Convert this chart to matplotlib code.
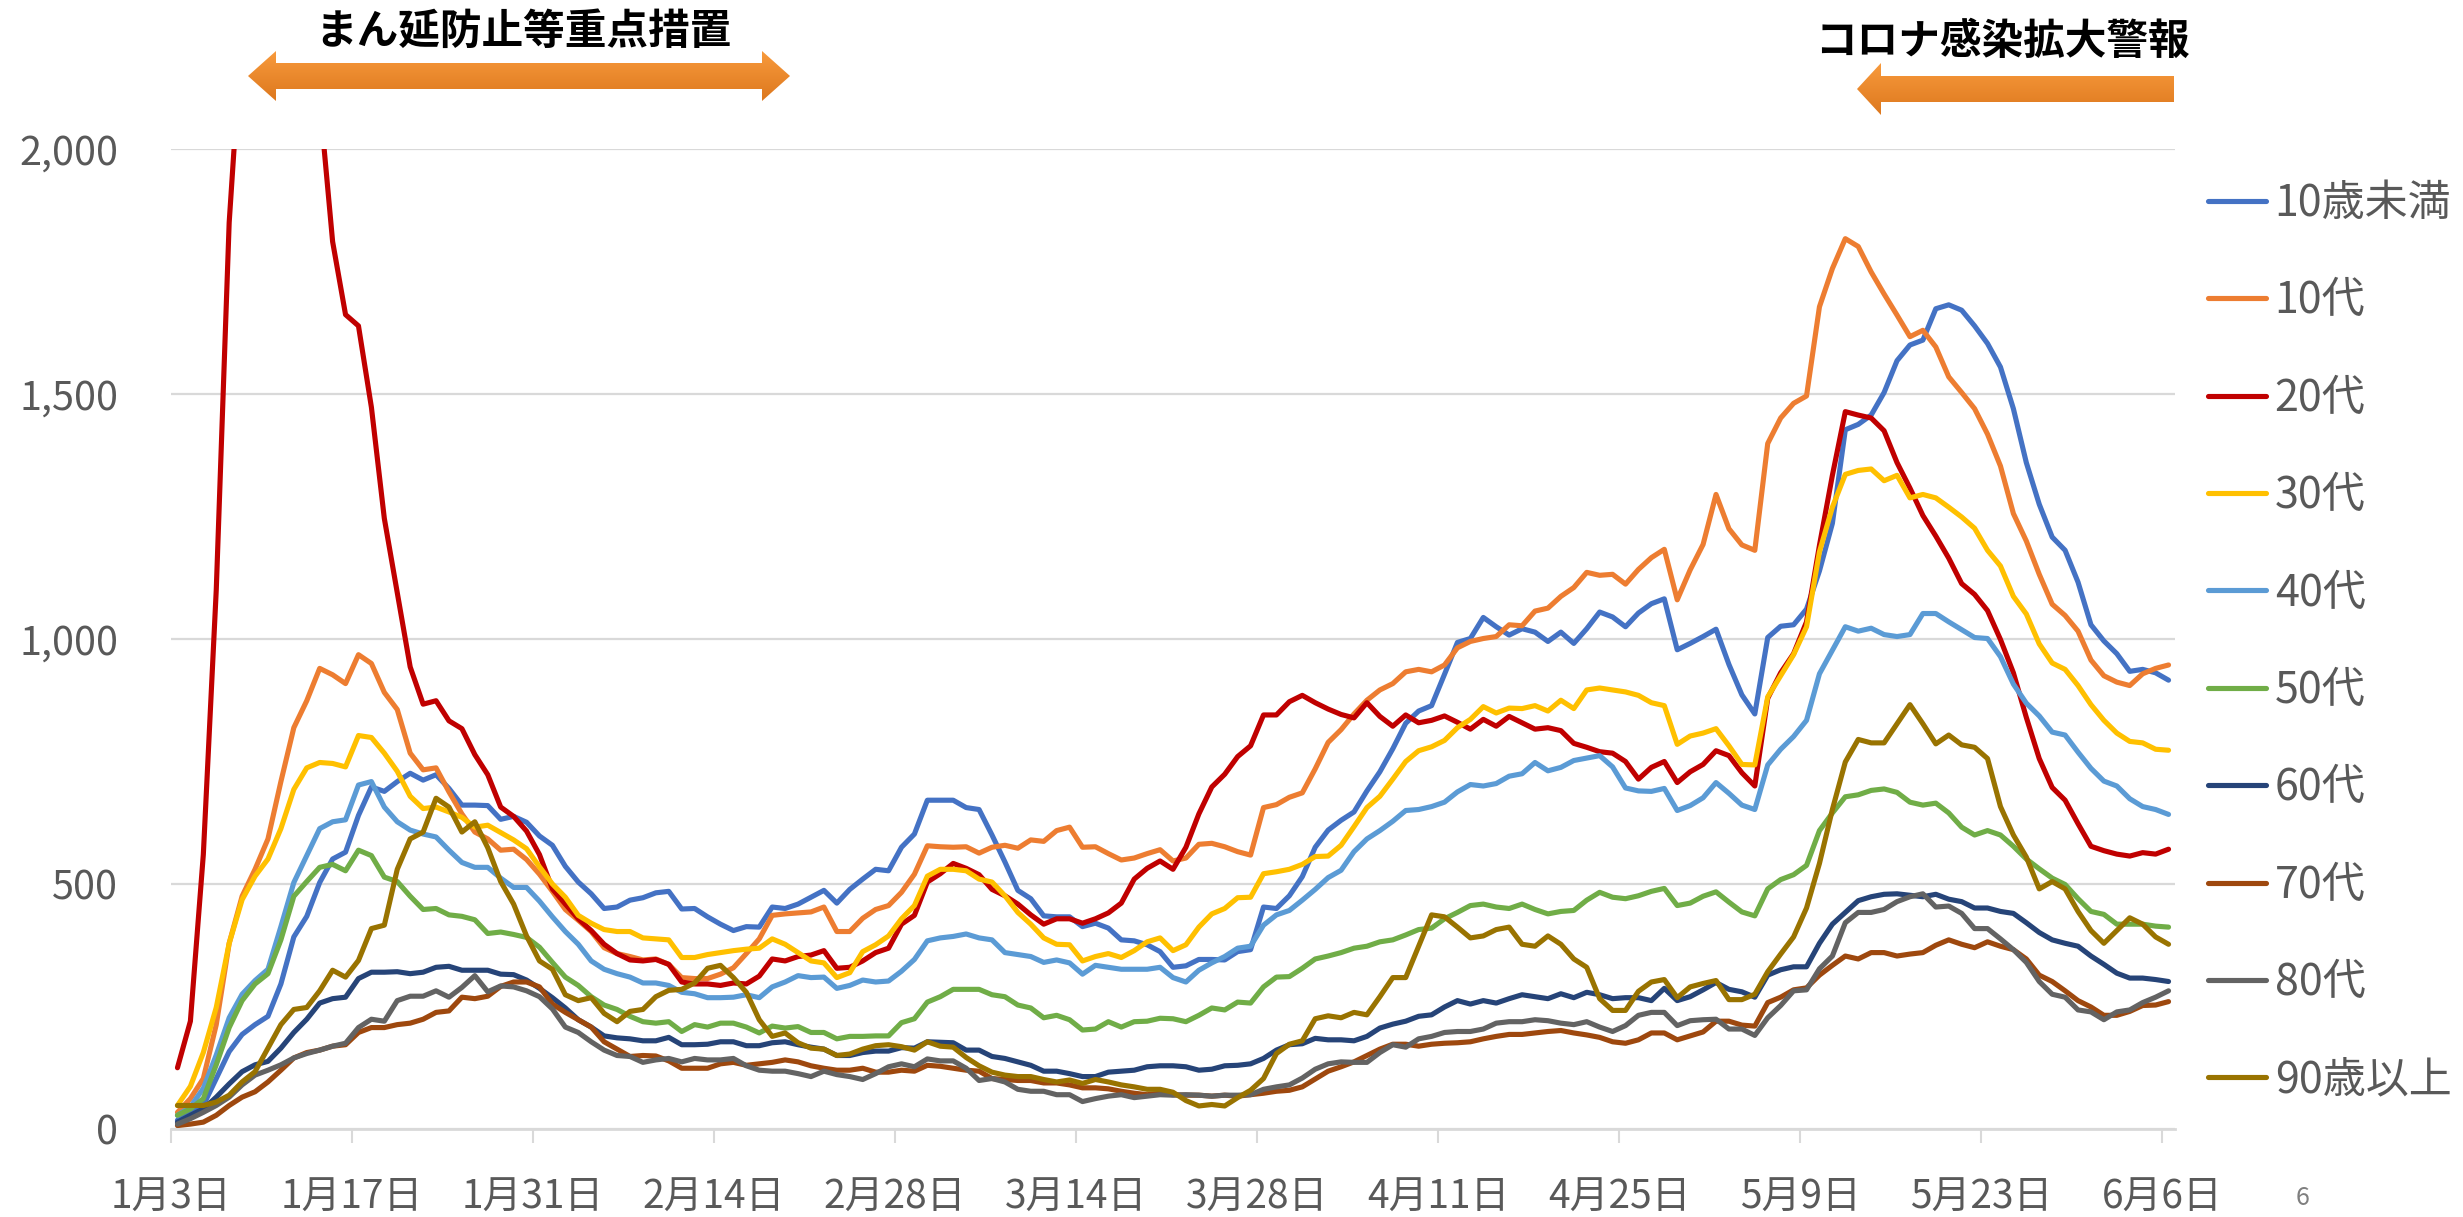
"""
年代別 新規陽性者数（7日間移動平均の推移）
1月3日から6月6日までの日別データを折れ線で描画する
"""

import numpy as np
import pandas as pd
import matplotlib
matplotlib.use('Agg')
import matplotlib.pyplot as plt
from matplotlib.patches import Polygon
from matplotlib.ticker import FuncFormatter

plt.rcParams['font.family'] = ['Noto Sans CJK JP', 'DejaVu Sans']

# 1月3日から6月6日までの日付
dates = pd.date_range('2021-01-03', '2021-06-06')

age_labels = ['10歳未満', '10代', '20代', '30代', '40代', '50代', '60代', '70代', '80代', '90歳以上']
colors = ['#4472C4', '#ED7D31', '#C00000', '#FFC000', '#5B9BD5',
          '#70AD47', '#264478', '#9E480E', '#636363', '#997300']

under10 = [18, 34, 48, 103, 158, 193, 213, 230, 296, 392,
           434, 503, 551, 565, 640, 698, 689, 709, 726, 712,
           723, 695, 661, 661, 660, 632, 638, 626, 598, 579,
           536, 504, 480, 450, 453, 467, 472, 482, 485, 449,
           450, 433, 418, 405, 413, 412, 453, 450, 459, 473,
           487, 461, 489, 510, 530, 527, 575, 602, 671, 671,
           671, 656, 652, 600, 545, 487, 470, 435, 433, 433,
           413, 420, 410, 386, 384, 376, 362, 330, 333, 346,
           346, 345, 362, 366, 453, 450, 476, 515, 575, 610,
           630, 647, 690, 729, 776, 828, 853, 864, 928, 993,
           1001, 1044, 1025, 1008, 1021, 1014, 995, 1014, 991, 1021,
           1055, 1045, 1025, 1053, 1072, 1082, 978, 991, 1005, 1020,
           948, 886, 847, 1003, 1026, 1029, 1061, 1139, 1236, 1427,
           1438, 1457, 1503, 1568, 1600, 1610, 1674, 1682, 1671, 1639,
           1603, 1555, 1470, 1360, 1275, 1208, 1181, 1116, 1029, 996,
           970, 934, 938, 931, 916]

teens = [34, 62, 103, 213, 379, 475, 530, 592, 709, 819,
         874, 940, 927, 909, 968, 950, 891, 856, 767, 733,
         737, 688, 643, 606, 592, 569, 571, 550, 520, 485,
         448, 426, 403, 370, 358, 352, 345, 347, 336, 309,
         307, 307, 316, 329, 358, 388, 436, 439, 441, 443,
         453, 403, 403, 430, 448, 456, 483, 520, 578, 576,
         575, 576, 563, 575, 579, 573, 590, 587, 609, 616,
         575, 576, 562, 549, 553, 562, 570, 547, 553, 581,
         583, 576, 566, 559, 656, 662, 677, 686, 735, 789,
         815, 847, 875, 896, 909, 933, 938, 933, 947, 982,
         995, 1001, 1005, 1029, 1027, 1057, 1063, 1087, 1105, 1136,
         1130, 1132, 1112, 1142, 1166, 1183, 1080, 1141, 1193, 1295,
         1225, 1192, 1181, 1399, 1451, 1481, 1496, 1678, 1756, 1817,
         1801, 1749, 1704, 1661, 1617, 1630, 1596, 1535, 1503, 1470,
         1418, 1353, 1256, 1200, 1132, 1071, 1048, 1016, 957, 925,
         912, 905, 929, 940, 947]

twenties = [125, 220, 560, 1100, 1850, 2250, 2600, 2800, 2850, 2700,
            2450, 2100, 1811, 1662, 1639, 1473, 1246, 1095, 943, 867,
            874, 833, 817, 764, 723, 657, 638, 608, 560, 490,
            459, 429, 405, 377, 358, 345, 343, 346, 336, 300,
            296, 296, 293, 298, 296, 312, 347, 343, 352, 355,
            364, 328, 330, 343, 360, 369, 418, 436, 504, 521,
            542, 532, 519, 489, 476, 459, 437, 418, 429, 429,
            420, 429, 441, 461, 510, 532, 547, 530, 575, 643,
            698, 724, 760, 782, 845, 845, 872, 885, 870, 857,
            846, 839, 870, 842, 822, 845, 829, 834, 843, 830,
            816, 836, 822, 842, 829, 816, 819, 813, 787, 779,
            770, 767, 750, 714, 738, 750, 707, 729, 744, 772,
            762, 727, 700, 879, 931, 970, 1035, 1191, 1334, 1464,
            1457, 1451, 1425, 1360, 1308, 1252, 1210, 1165, 1113, 1091,
            1058, 999, 931, 840, 756, 697, 671, 623, 577, 568,
            561, 557, 564, 561, 571]

thirties = [48, 87, 156, 248, 379, 468, 516, 551, 613, 693,
            737, 748, 746, 739, 803, 799, 767, 730, 679, 654,
            657, 647, 636, 616, 620, 605, 590, 572, 535, 500,
            473, 436, 420, 407, 403, 403, 390, 388, 386, 350,
            350, 356, 360, 364, 367, 369, 388, 377, 360, 343,
            339, 309, 319, 362, 376, 394, 429, 456, 516, 530,
            530, 527, 510, 504, 476, 442, 418, 390, 377, 376,
            343, 352, 358, 350, 364, 382, 390, 364, 376, 412,
            439, 450, 472, 473, 521, 525, 530, 540, 556, 557,
            579, 617, 656, 679, 714, 750, 772, 780, 793, 819,
            836, 862, 849, 859, 858, 864, 853, 875, 858, 896,
            900, 896, 892, 885, 870, 864, 785, 802, 808, 817,
            782, 744, 743, 882, 925, 968, 1025, 1178, 1269, 1336,
            1344, 1347, 1323, 1334, 1288, 1295, 1288, 1269, 1249, 1226,
            1181, 1149, 1087, 1051, 990, 951, 938, 905, 866, 834,
            808, 791, 788, 775, 773]

forties = [28, 45, 83, 151, 227, 275, 303, 326, 413, 503,
           558, 613, 627, 631, 702, 709, 657, 627, 610, 602,
           596, 569, 544, 534, 534, 512, 493, 493, 465, 433,
           403, 377, 343, 326, 317, 310, 298, 298, 293, 279,
           276, 268, 268, 269, 274, 268, 290, 300, 313, 309,
           310, 287, 293, 304, 300, 302, 322, 346, 384, 390,
           393, 398, 390, 386, 360, 356, 352, 340, 345, 339,
           316, 334, 330, 326, 326, 326, 330, 309, 300, 324,
           339, 352, 369, 373, 416, 437, 446, 467, 489, 513,
           528, 566, 592, 609, 628, 650, 652, 658, 667, 688,
           703, 700, 705, 720, 725, 748, 731, 738, 752, 757,
           762, 739, 696, 690, 689, 695, 650, 660, 676, 707,
           685, 661, 652, 743, 775, 801, 834, 929, 977, 1025,
           1016, 1022, 1009, 1005, 1009, 1052, 1052, 1035, 1019, 1003,
           1001, 964, 908, 869, 843, 810, 804, 769, 736, 710,
           700, 674, 658, 652, 642]

fifties = [28, 41, 62, 131, 207, 262, 296, 317, 386, 475,
           505, 534, 540, 527, 569, 558, 514, 505, 475, 448,
           450, 437, 434, 427, 399, 402, 397, 391, 371, 340,
           310, 293, 270, 253, 244, 230, 219, 216, 219, 199,
           213, 208, 216, 216, 208, 196, 210, 206, 209, 197,
           197, 184, 189, 189, 190, 190, 217, 225, 259, 270,
           285, 285, 285, 274, 270, 253, 247, 227, 232, 223,
           202, 204, 219, 208, 219, 220, 226, 225, 219, 232,
           247, 243, 259, 257, 290, 310, 311, 328, 347, 353,
           360, 369, 373, 382, 386, 396, 407, 410, 429, 442,
           456, 459, 453, 450, 459, 448, 439, 444, 446, 467,
           483, 473, 470, 476, 485, 491, 456, 461, 475, 484,
           463, 443, 435, 490, 509, 519, 538, 609, 645, 678,
           682, 691, 694, 687, 667, 661, 665, 645, 616, 600,
           609, 600, 577, 551, 531, 512, 499, 470, 444, 438,
           418, 418, 418, 414, 412]

sixties = [14, 28, 41, 65, 92, 117, 131, 138, 165, 197,
           224, 257, 266, 269, 307, 320, 320, 321, 317, 320,
           330, 332, 324, 324, 324, 316, 315, 304, 287, 268,
           247, 223, 208, 190, 186, 184, 180, 180, 187, 172,
           172, 173, 178, 178, 170, 170, 176, 178, 172, 167,
           163, 150, 150, 156, 159, 159, 166, 165, 178, 177,
           176, 161, 161, 148, 144, 137, 130, 118, 118, 113,
           107, 107, 116, 118, 120, 127, 129, 129, 127, 120,
           122, 129, 130, 133, 144, 161, 172, 174, 185, 182,
           182, 180, 189, 206, 214, 220, 230, 233, 249, 262,
           255, 262, 257, 266, 274, 270, 266, 276, 268, 279,
           274, 266, 268, 268, 262, 287, 262, 270, 284, 299,
           285, 280, 269, 314, 325, 331, 331, 379, 418, 442,
           466, 474, 479, 480, 477, 474, 479, 469, 464, 451,
           451, 444, 440, 421, 401, 386, 379, 373, 353, 336,
           318, 308, 308, 305, 301]

seventies = [7, 10, 14, 28, 48, 65, 76, 96, 120, 145,
             156, 161, 169, 172, 197, 207, 207, 213, 216, 224,
             238, 241, 269, 266, 271, 291, 300, 300, 290, 255,
             238, 223, 208, 178, 163, 148, 150, 149, 139, 124,
             124, 124, 133, 136, 130, 133, 136, 141, 137, 129,
             124, 120, 120, 124, 116, 116, 120, 118, 130, 128,
             124, 120, 118, 103, 101, 99, 99, 94, 94, 90,
             84, 84, 82, 77, 73, 70, 73, 70, 69, 69,
             67, 69, 67, 70, 73, 77, 79, 86, 102, 118,
             127, 137, 150, 163, 173, 173, 169, 173, 175, 176,
             178, 184, 189, 193, 193, 196, 199, 201, 196, 192,
             187, 178, 175, 182, 196, 196, 182, 190, 198, 220,
             220, 212, 210, 258, 269, 284, 288, 314, 334, 353,
             347, 360, 360, 353, 357, 360, 375, 386, 377, 370,
             382, 373, 366, 347, 314, 301, 282, 262, 249, 232,
             232, 240, 252, 253, 260]

eighties = [10, 21, 34, 48, 65, 90, 110, 120, 131, 145,
            154, 161, 169, 175, 207, 224, 220, 262, 271, 271,
            282, 269, 289, 313, 280, 292, 290, 282, 270, 245,
            208, 197, 178, 161, 150, 148, 136, 141, 144, 137,
            144, 141, 141, 144, 129, 120, 118, 118, 113, 107,
            118, 111, 107, 101, 113, 127, 133, 127, 143, 139,
            139, 124, 99, 103, 96, 81, 77, 77, 70, 70,
            56, 62, 67, 70, 64, 67, 70, 69, 70, 69,
            67, 69, 69, 70, 81, 86, 90, 104, 122, 133,
            137, 136, 136, 156, 172, 167, 184, 189, 197, 199,
            199, 204, 216, 219, 219, 223, 221, 216, 213, 219,
            208, 199, 211, 232, 238, 238, 211, 221, 223, 224,
            204, 204, 191, 227, 252, 282, 284, 327, 353, 421,
            442, 442, 448, 464, 474, 480, 453, 455, 440, 409,
            409, 388, 366, 340, 301, 275, 269, 243, 239, 223,
            239, 243, 258, 269, 282]

over90 = [48, 48, 48, 55, 69, 96, 117, 165, 213, 244,
          248, 282, 324, 310, 344, 409, 416, 530, 592, 606,
          675, 657, 606, 627, 574, 505, 459, 394, 343, 326,
          274, 262, 268, 236, 219, 240, 244, 270, 283, 285,
          298, 328, 334, 309, 279, 223, 189, 196, 176, 165,
          163, 150, 153, 163, 170, 172, 168, 161, 178, 169,
          167, 146, 129, 116, 110, 107, 107, 101, 96, 100,
          93, 101, 96, 90, 86, 81, 81, 75, 58, 47,
          50, 47, 64, 79, 103, 154, 173, 180, 225, 231,
          227, 238, 233, 270, 309, 309, 373, 437, 433, 412,
          390, 394, 407, 412, 377, 373, 394, 377, 347, 330,
          266, 242, 242, 281, 300, 305, 268, 290, 297, 303,
          264, 264, 275, 321, 357, 392, 451, 542, 652, 749,
          795, 788, 788, 827, 866, 827, 786, 804, 784, 779,
          756, 658, 600, 555, 490, 505, 490, 444, 405, 379,
          405, 431, 418, 392, 377]

series = [under10, teens, twenties, thirties, forties,
          fifties, sixties, seventies, eighties, over90]

W, H = 2463, 1217
fig = plt.figure(figsize=(W / 100, H / 100), dpi=100)

# plot area in pixel coordinates (left, top, right, bottom)
left, top, right, bottom = 171, 149, 2175, 1129
ax = fig.add_axes([left / W, 1 - bottom / H, (right - left) / W, (bottom - top) / H])

days = np.arange(len(dates))
for values, label, color in zip(series, age_labels, colors):
    ax.plot(days, values, color=color, lw=3.7, label=label,
            solid_joinstyle='round', solid_capstyle='round')

ax.set_xlim(-0.5, len(dates) - 0.5)
ax.set_ylim(0, 2000)

# y axis
ax.set_yticks([0, 500, 1000, 1500, 2000])
ax.yaxis.set_major_formatter(FuncFormatter(lambda v, p: f'{v:,.0f}'))
ax.grid(axis='y', color='#D9D9D9', lw=1.6)
ax.set_axisbelow(True)

# x axis: ticks every 14 days
tick_idx = np.arange(0, len(dates), 14)
ax.set_xticks(tick_idx - 0.5)
ax.set_xticklabels([f'{d.month}月{d.day}日' for d in dates[tick_idx]])

ax.tick_params(axis='y', length=0, pad=38, labelsize=28.5, labelcolor='#595959')
ax.tick_params(axis='x', length=10, width=1.5, color='#D9D9D9', pad=25,
               labelsize=28, labelcolor='#595959')

for side in ['top', 'right', 'left']:
    ax.spines[side].set_visible(False)
ax.spines['bottom'].set_color('#D9D9D9')
ax.spines['bottom'].set_linewidth(2)

# legend on the right
ax.legend(loc='upper left', bbox_to_anchor=(2208 / W, 1 - 182 / H),
          bbox_transform=fig.transFigure, frameon=False, fontsize=31,
          labelcolor='#595959', handlelength=1.35, handletextpad=0.2,
          labelspacing=1.24, borderpad=0, borderaxespad=0)

# overlay in pixel coordinates for the arrows and headings
ov = fig.add_axes([0, 0, 1, 1])
ov.set_xlim(0, W)
ov.set_ylim(H, 0)
ov.axis('off')

grad = np.linspace(0, 1, 64).reshape(-1, 1)
cmap = matplotlib.colors.LinearSegmentedColormap.from_list('arrow', ['#F89A3C', '#DD781E'])


def draw_arrow(points):
    pts = np.array(points)
    poly = Polygon(pts, closed=True, facecolor='none', edgecolor='none')
    ov.add_patch(poly)
    img = ov.imshow(grad, cmap=cmap, aspect='auto',
                    extent=[pts[:, 0].min(), pts[:, 0].max(), pts[:, 1].max(), pts[:, 1].min()])
    img.set_clip_path(poly)


# まん延防止等重点措置 (double-headed arrow)
draw_arrow([(248, 76), (276, 51), (276, 63), (762, 63), (762, 51), (790, 76),
            (762, 101), (762, 89), (276, 89), (276, 101)])
# コロナ感染拡大警報 (arrow pointing left)
draw_arrow([(1857, 89), (1881, 63), (1881, 76), (2174, 76),
            (2174, 102), (1881, 102), (1881, 115)])
ov.set_xlim(0, W)
ov.set_ylim(H, 0)

ov.text(523, 32, 'まん延防止等重点措置', fontsize=30, fontweight='bold',
        ha='center', va='center', color='black')
ov.text(2002, 42, 'コロナ感染拡大警報', fontsize=30, fontweight='bold',
        ha='center', va='center', color='black')

# page number
ov.text(2303, 1198, '6', fontsize=18, ha='center', va='center', color='#7F7F7F')

fig.savefig('out.png', dpi=100)
